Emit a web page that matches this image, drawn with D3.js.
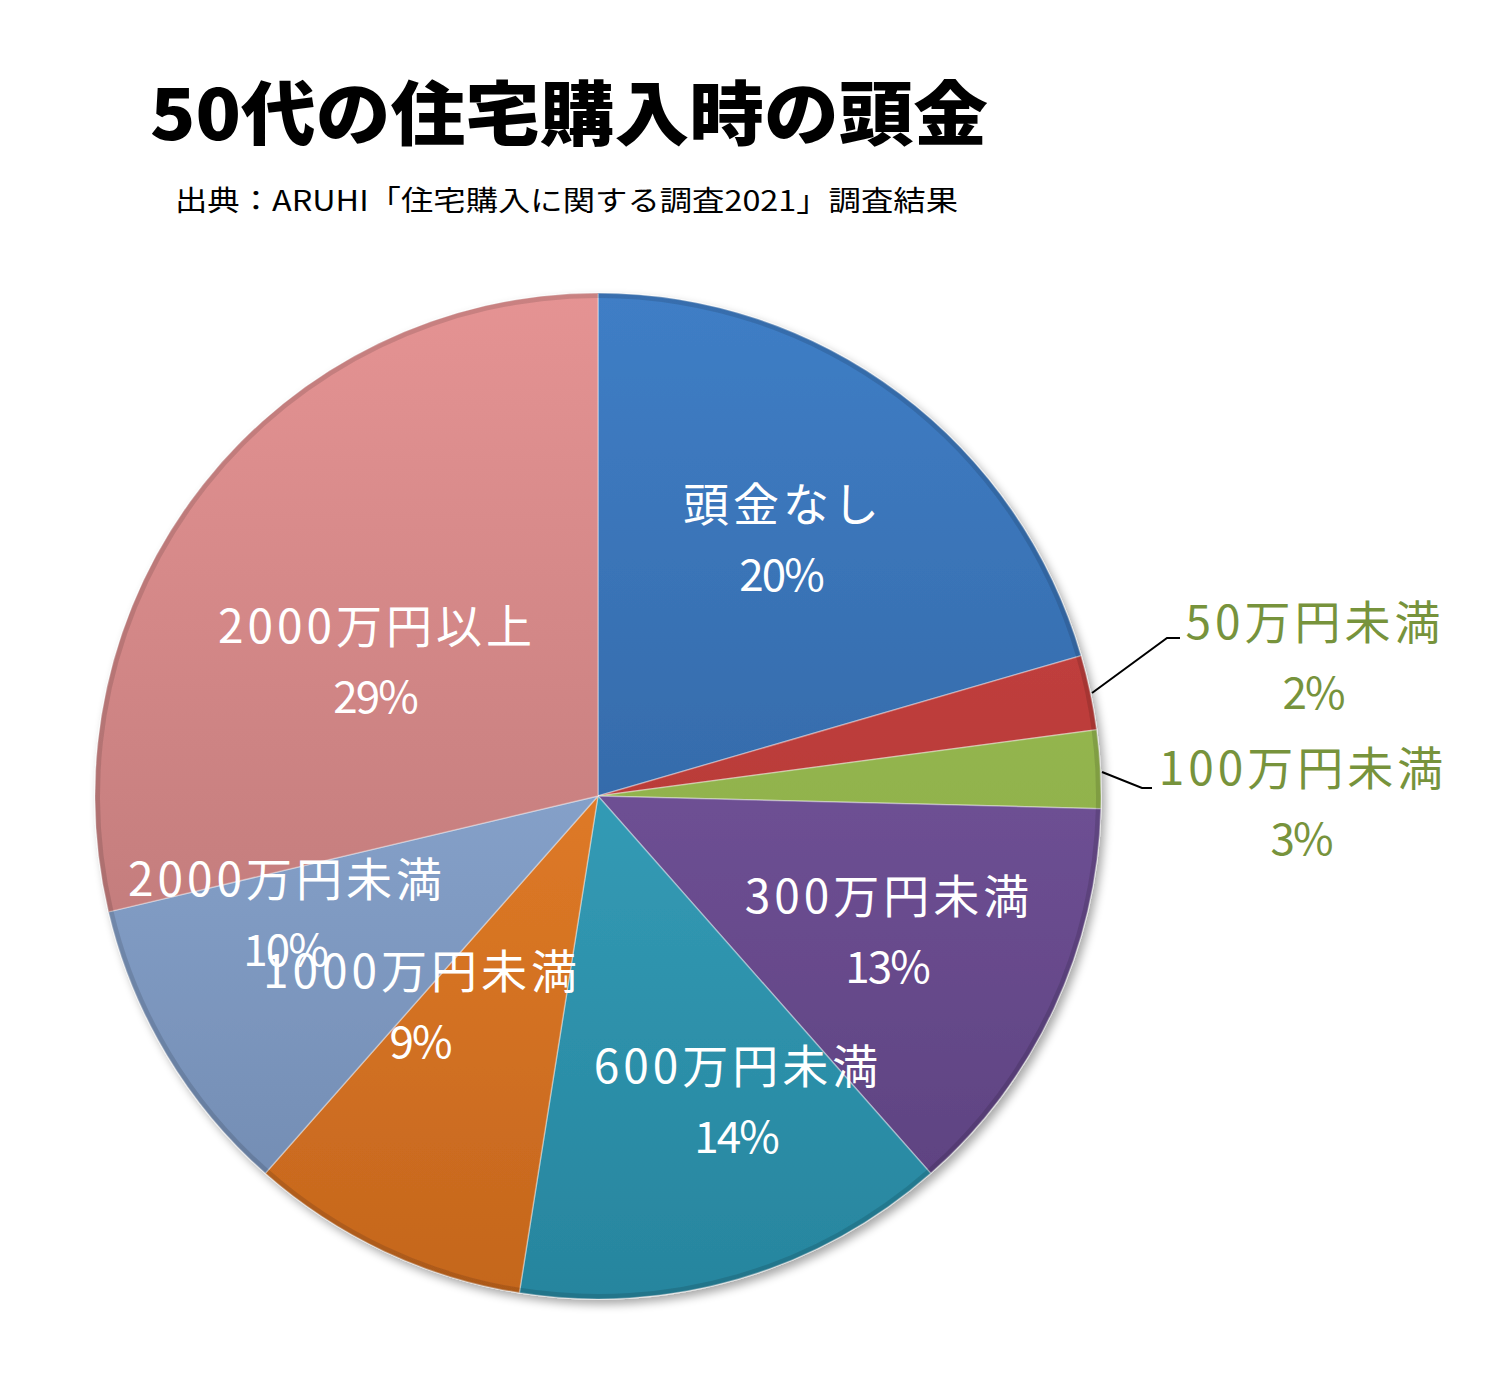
<!DOCTYPE html>
<html><head><meta charset="utf-8">
<script src="https://cdn.jsdelivr.net/npm/d3@7"></script>
<style>body{margin:0;background:#fff;} svg{display:block;}</style>
</head><body>
<svg id="chart" width="1500" height="1378"></svg>
<script>
const categories = ["頭金なし","50万円未満","100万円未満","300万円未満","600万円未満","1000万円未満","2000万円未満","2000万円以上"];
const values = [20.5, 2.4, 2.5, 13.1, 14.0, 9.0, 9.8, 28.7];
const percentLabels = ["20%","2%","3%","13%","14%","9%","10%","29%"];
const topColors = ["#3f7ec6","#cc4744","#9fc25a","#8160ab","#3eb0cc","#f88d30","#9ab8e3","#e59393"];
const bottomColors = ["#2c5990","#a8302e","#84a43f","#5a3f7c","#27859e","#c4661d","#6f88ae","#b07070"];
const outside = [false,true,true,false,false,false,false,false];
const labelPos = [[781,505],[1313,623],[1301,769],[887,897],[736,1067],[420,972],[285,880],[375,627]];
const leaderPts = [null,[[1092,693],[1167,638],[1180,638]],[[1102,772],[1142,788],[1152,788]],null,null,null,null,null];

const svg = d3.select("#chart");
const cx = 598, cy = 796, R = 503;
const defs = svg.append("defs");

const f = defs.append("filter").attr("id","shadow").attr("x","-10%").attr("y","-10%").attr("width","125%").attr("height","125%");
f.append("feGaussianBlur").attr("in","SourceAlpha").attr("stdDeviation",5).attr("result","b");
f.append("feOffset").attr("in","b").attr("dx",4).attr("dy",5).attr("result","o");
f.append("feComponentTransfer").attr("in","o").attr("result","o2").append("feFuncA").attr("type","linear").attr("slope",0.35);
const m = f.append("feMerge"); m.append("feMergeNode").attr("in","o2"); m.append("feMergeNode").attr("in","SourceGraphic");

categories.forEach((c,i)=>{
  const g = defs.append("linearGradient").attr("id","g"+i).attr("gradientUnits","userSpaceOnUse")
    .attr("x1",0).attr("y1",-R).attr("x2",0).attr("y2",R);
  g.append("stop").attr("offset","0%").attr("stop-color",topColors[i]);
  g.append("stop").attr("offset","100%").attr("stop-color",bottomColors[i]);
});

// title
svg.append("text").attr("x",150).attr("y",140).attr("font-family","'Noto Sans CJK JP'").attr("font-weight",900)
  .attr("font-size",70).attr("textLength",838).attr("lengthAdjust","spacingAndGlyphs").attr("fill","#000").text("50代の住宅購入時の頭金");
svg.append("text").attr("x",175).attr("y",211).attr("font-family","'Noto Sans CJK JP'")
  .attr("font-size",28).attr("textLength",783).attr("lengthAdjust","spacingAndGlyphs").attr("fill","#000").text("出典：ARUHI「住宅購入に関する調査2021」調査結果");

const pie = d3.pie().sort(null).value(d=>d).startAngle(0).endAngle(2*Math.PI);
const arcs = pie(values);
const arc = d3.arc().innerRadius(0).outerRadius(R);
const gp = svg.append("g").attr("transform",`translate(${cx},${cy})`).attr("filter","url(#shadow)");
gp.selectAll("path.slice").data(arcs).join("path").attr("class","slice")
  .attr("d",arc).attr("fill",(d,i)=>`url(#g${i})`)
  .attr("stroke","rgba(255,255,255,0.35)").attr("stroke-width",1.5).attr("stroke-linejoin","round");
gp.selectAll("path.edge").data(arcs).join("path").attr("class","edge")
  .attr("d",d3.arc().innerRadius(R-5).outerRadius(R)).attr("fill","rgba(0,0,0,0.12)");

// leader lines
leaderPts.forEach(p=>{ if(p) svg.append("polyline").attr("points",p.map(q=>q.join(",")).join(" "))
  .attr("fill","none").attr("stroke","#000").attr("stroke-width",2); });

// labels
const lab = svg.append("g").attr("font-family","'Noto Sans CJK JP'").attr("text-anchor","middle");
categories.forEach((c,i)=>{
  const col = outside[i] ? "#77933c" : "#fff";
  const [x,y] = labelPos[i];
  lab.append("text").attr("x",x+2).attr("y",y+16).attr("fill",col).attr("font-size",46).attr("letter-spacing",4).text(c);
  lab.append("text").attr("x",x).attr("y",y+16+70).attr("fill",col).attr("font-size",44).attr("letter-spacing",-2).text(percentLabels[i]);
});
</script>
</body></html>
